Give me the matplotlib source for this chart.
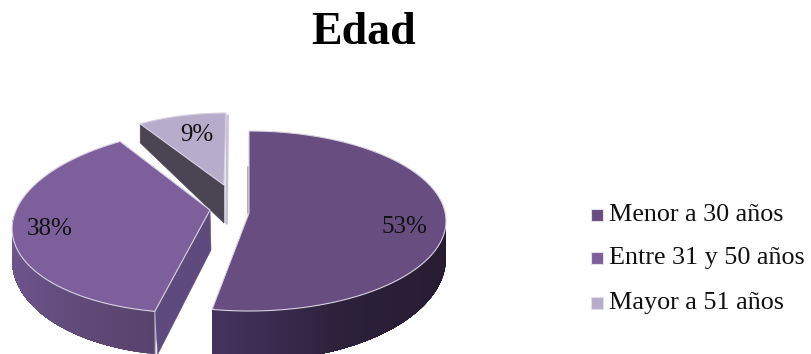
import numpy as np
import matplotlib
matplotlib.use("Agg")
import matplotlib.pyplot as plt
from matplotlib.colors import to_rgb
from matplotlib.patches import Polygon, Rectangle

title = "Edad"
categories = ["Menor a 30 años", "Entre 31 y 50 años", "Mayor a 51 años"]
values = [53, 38, 9]

plt.rcParams["font.family"] = ["Liberation Serif", "DejaVu Serif"]
fig = plt.figure(figsize=(8.11, 3.54), dpi=100)
ax = fig.add_axes([0, 0, 1, 1])
ax.set_xlim(0, 811)
ax.set_ylim(354, 0)
ax.axis("off")

fracs = np.array(values, dtype=float) / sum(values)
edges = np.concatenate([[0], np.cumsum(fracs)]) * 360.0

# projected geometry of each exploded slice (pixels)
geom = [
    dict(cx=249, cy=221, a=197, b=90, apex=(249, 213), shear=0.0, d0=37, d1=13,
         top="#674d80", wall=[("#46345f", 190.8), ("#2b203a", 150), ("#261b30", 90)], wall_range=(90, None)),
    dict(cx=210, cy=220, a=197, b=93, apex=(210, 210), shear=-0.2, d0=30, d1=13,
         top="#7d5f9c", wall=[("#57436c", 190.8), ("#6a5288", 240), ("#70578f", 270)], wall_range=(None, 272)),
    dict(cx=226, cy=183, a=160, b=70, apex=(224, 185), shear=0.0, d0=19, d1=0,
         top="#b8accb", wall=None, wall_range=None),
]
RIM = "#d9d2e2"


def rim(g, th):
    t = np.radians(th)
    y = g["cy"] - g["b"] * np.cos(t)
    x = g["cx"] + g["a"] * np.sin(t) + g["shear"] * (y - g["cy"])
    return x, y


def depth(g, th):
    return g["d0"] - g["d1"] * np.cos(np.radians(th))


def blend(stops, th):
    pts = sorted(stops, key=lambda s: s[1])
    ths = [p[1] for p in pts]
    cols = np.array([to_rgb(p[0]) for p in pts])
    return [float(np.interp(th, ths, cols[:, i])) for i in range(3)]


def draw_wall(g, start, end):
    lo = start if g["wall_range"][0] is None else max(start, g["wall_range"][0])
    hi = end if g["wall_range"][1] is None else min(end, g["wall_range"][1])
    grid = np.linspace(lo, hi, 90)
    # each band runs to the far end so that the next one paints over it: no seams
    for t0 in grid[:-1]:
        th = np.linspace(t0, hi, 60)
        x, y = rim(g, th)
        yb = y + depth(g, th)
        pts = np.column_stack([np.r_[x, x[::-1]], np.r_[y, yb[::-1]]])
        c = blend(g["wall"], t0)
        ax.add_patch(Polygon(pts, closed=True, fc=c, ec="none", zorder=2))


def draw_top(g, start, end):
    th = np.linspace(start, end, 120)
    x, y = rim(g, th)
    pts = np.column_stack([x, y]).tolist() + [list(g["apex"])]
    ax.add_patch(Polygon(pts, closed=True, fc=g["top"], ec=RIM, lw=0.8, zorder=4))


# slice 3 (rear, exploded)
g3 = geom[2]
s3, e3 = edges[2], edges[3]
xl, yl = rim(g3, s3)
ax3 = g3["apex"]
ax.add_patch(Polygon([(xl, yl), ax3, (ax3[0], ax3[1] + 38), (xl, yl + depth(g3, s3))],
                     closed=True, fc="#4b4553", ec="#4b4553", lw=0.5, zorder=1))
xr, yr = rim(g3, e3)
ax.plot([xr + 1.5, xr + 0.5], [yr + 3, ax3[1] + 38], color="#c9c1d6", lw=2, zorder=1)
draw_top(g3, s3, e3)

# slice 2 (left)
g2 = geom[1]
s2, e2 = edges[1], edges[2]
draw_wall(g2, s2, e2)
xs, ys = rim(g2, s2)
ap2 = g2["apex"]
ax.add_patch(Polygon([(xs, ys), ap2, (ap2[0] + 1, ap2[1] + 40), (xs + 3, ys + depth(g2, s2))],
                     closed=True, fc="#5e4a7c", ec="#5e4a7c", lw=0.4, zorder=3))
ax.plot([xs, xs + 1], [ys, ys + depth(g2, s2)], color="#b9aec6", lw=0.8, zorder=3)
draw_top(g2, s2, e2)

# slice 1 (right)
g1 = geom[0]
s1, e1 = edges[0], edges[1]
draw_wall(g1, s1, e1)
ap1 = g1["apex"]
ax.plot([ap1[0] - 1, ap1[0] - 1], [167, ap1[1]], color="#a79bb6", lw=1.2, zorder=3)
draw_top(g1, s1, e1)

# percentage labels
label_pos = [(404, 227), (50, 229), (197, 135)]
for v, (px, py) in zip(values, label_pos):
    ax.text(px, py, f"{v}%", ha="center", va="center", fontsize=18, color="#111111", zorder=6)

ax.text(364, 33, title, ha="center", va="center", fontsize=33, fontweight="bold", color="black")

# legend
legend_y = [215, 258, 303]
legend_colors = ["#674d80", "#7d5f9c", "#b8accb"]
for name, y, c in zip(categories, legend_y, legend_colors):
    ax.add_patch(Rectangle((591, y - 6), 12, 12, fc=c, ec="#e4deea", lw=0.8, zorder=5))
    ax.text(609, y, name, ha="left", va="center", fontsize=18.8, color="#111111")

fig.savefig("out.png", dpi=100, facecolor="white")
